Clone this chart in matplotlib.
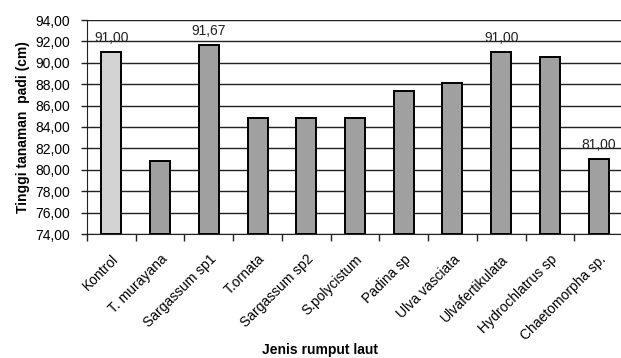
import matplotlib
matplotlib.use("Agg")
import matplotlib.pyplot as plt
import numpy as np

categories = ["Kontrol", "T. murayana", "Sargassum sp1", "T.ornata", "Sargassum sp2",
              "S.polycistum", "Padina sp", "Ulva vasciata", "Ulvafertikulata",
              "Hydrochlatrus sp", "Chaetomorpha sp."]
heights = [91.00, 80.8, 91.67, 84.8, 84.8, 84.8, 87.4, 88.1, 91.00, 90.5, 81.00]
labelled = [0, 2, 8, 10]
y_ticks = [74, 76, 78, 80, 82, 84, 86, 88, 90, 92, 94]

plt.rcParams['font.family'] = ['Liberation Sans', 'DejaVu Sans']

fig = plt.figure(figsize=(6.21, 3.58), dpi=100)
ax = fig.add_axes([87 / 621, 1 - 234 / 358, 536 / 621, 214 / 358])

x = np.arange(len(categories))
colors = ['#d3d3d3'] + ['#a0a0a0'] * (len(categories) - 1)
ax.bar(x, [h - 74 for h in heights], bottom=74, width=0.41, color=colors,
       edgecolor='black', linewidth=1.4, zorder=3)

for i in labelled:
    ax.annotate(f"{heights[i]:.2f}".replace('.', ','), (x[i], heights[i]),
                xytext=(0, 5), textcoords='offset points', ha='center',
                va='bottom', fontsize=10, color='#222222')

ax.set_ylim(74, 94)
ax.set_xlim(-0.5, len(categories) - 0.5)
ax.set_yticks(y_ticks)
ax.set_yticklabels([f"{v:.2f}".replace('.', ',') for v in y_ticks], fontsize=10)
ax.yaxis.grid(True, color='#222222', linewidth=1.0, zorder=0)
ax.tick_params(axis='y', length=4, width=1, color='#222222', pad=8)

ax.set_xticks(x)
ax.set_xticklabels(categories, rotation=45, ha='right', rotation_mode='anchor', fontsize=10)
ax.set_xticks(np.arange(len(categories) + 1) - 0.5, minor=True)
ax.tick_params(axis='x', which='major', length=0, pad=13)
ax.tick_params(axis='x', which='minor', length=5, width=1, color='#222222')

for s in ['top', 'right']:
    ax.spines[s].set_visible(False)
ax.spines['left'].set_color('#222222')
ax.spines['bottom'].set_color('#222222')

ax.set_ylabel("Tinggi tanaman  padi (cm)", fontsize=10, fontweight='bold', labelpad=4)
fig.text(320 / 621, 1 - 350 / 358, "Jenis rumput laut", ha='center', va='center',
         fontsize=10, fontweight='bold')

fig.savefig("out.png", dpi=100)
